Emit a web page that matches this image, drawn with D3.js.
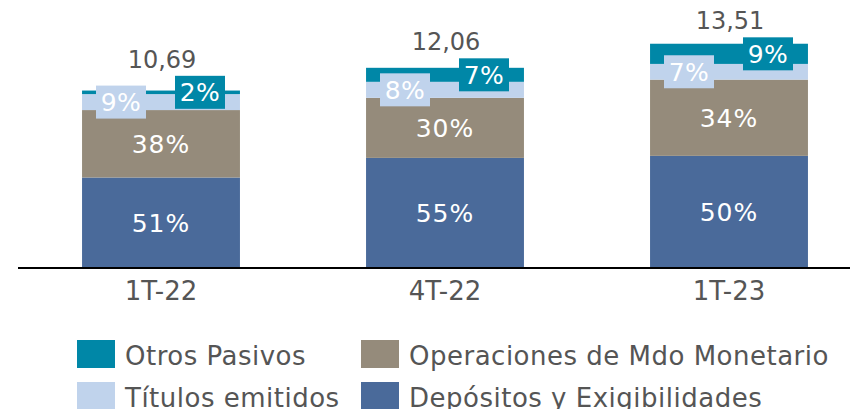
<!DOCTYPE html>
<html>
<head>
<meta charset="utf-8">
<script src="https://cdn.jsdelivr.net/npm/d3@7/dist/d3.min.js"></script>
<style>
  html, body { margin: 0; padding: 0; background: #fff; }
  svg { display: block; }
  text { font-family: "DejaVu Sans", sans-serif; }
</style>
</head>
<body>
<svg id="chart" width="850" height="409"></svg>
<script>
// Quarters and total liabilities (billions)
const categories = ["1T-22", "4T-22", "1T-23"];
const totals = [10.69, 12.06, 13.51];
const totalLabels = ["10,69", "12,06", "13,51"];

// Share of each component in the total, bottom to top
const seriesNames = ["Depósitos y Exigibilidades", "Operaciones de Mdo Monetario", "Títulos emitidos", "Otros Pasivos"];
const depositos = [51, 55, 50];
const operaciones = [38, 30, 34];
const titulos = [9, 8, 7];
const otros = [2, 7, 9];

const colors = {
  "Depósitos y Exigibilidades": "#4a6a9a",
  "Operaciones de Mdo Monetario": "#958b7b",
  "Títulos emitidos": "#c0d3ec",
  "Otros Pasivos": "#0087a7"
};
const textGray = "#555555";

const shares = [depositos, operaciones, titulos, otros];
const rows = categories.map((c, i) => {
  const r = { cat: c, total: totals[i] };
  seriesNames.forEach((s, k) => { r[s] = totals[i] * shares[k][i] / 100; r[s + "_pct"] = shares[k][i]; });
  return r;
});

const svg = d3.select("#chart");
const baseY = 268;

const x = d3.scaleBand().domain(categories).range([19, 871]).paddingInner(0.444).paddingOuter(0.222);
const y = d3.scaleLinear().domain([0, 15]).range([baseY, baseY - 249]);

const stack = d3.stack().keys(seriesNames);
const layers = stack(rows);

const g = svg.append("g");

layers.forEach(layer => {
  g.append("g").selectAll("rect").data(layer).join("rect")
    .attr("x", d => x(d.data.cat))
    .attr("width", x.bandwidth())
    .attr("y", d => y(d[1]))
    .attr("height", d => y(d[0]) - y(d[1]))
    .attr("fill", colors[layer.key]);
});

// In-bar labels for the two large segments
layers.slice(0, 2).forEach(layer => {
  g.append("g").selectAll("text").data(layer).join("text")
    .attr("x", d => x(d.data.cat) + x.bandwidth() / 2)
    .attr("y", d => (y(d[0]) + y(d[1])) / 2)
    .attr("dy", "0.36em")
    .attr("text-anchor", "middle")
    .attr("fill", "#fff")
    .attr("font-size", 25)
    .attr("letter-spacing", 1)
    .text(d => d.data[layer.key + "_pct"] + "%");
});

// Boxed labels for the two thin top segments
const boxW = 50, boxH = 33;
[[layers[2], -40], [layers[3], 39]].forEach(([layer, off]) => {
  const lg = g.append("g").selectAll("g").data(layer).join("g")
    .attr("transform", d => `translate(${x(d.data.cat) + x.bandwidth() / 2 + off},${(y(d[0]) + y(d[1])) / 2})`);
  lg.append("rect")
    .attr("x", -boxW / 2).attr("y", -boxH / 2)
    .attr("width", boxW).attr("height", boxH)
    .attr("fill", colors[layer.key]);
  lg.append("text")
    .attr("text-anchor", "middle")
    .attr("dy", "0.36em")
    .attr("fill", "#fff")
    .attr("font-size", 25)
    .attr("letter-spacing", 0.5)
    .text(d => d.data[layer.key + "_pct"] + "%");
});

// Totals above each bar
const topLayer = layers[3];
g.append("g").selectAll("text").data(topLayer).join("text")
  .attr("x", d => x(d.data.cat) + x.bandwidth() / 2 + 1)
  .attr("y", d => (y(d[0]) + y(d[1])) / 2 - boxH / 2 - 8)
  .attr("text-anchor", "middle")
  .attr("fill", textGray)
  .attr("font-size", 24)
  .text((d, i) => totalLabels[i]);

// Category axis
const axis = svg.append("g")
  .attr("transform", `translate(0,${baseY})`)
  .call(d3.axisBottom(x).tickSize(0).tickPadding(14));
axis.select(".domain").attr("stroke", "#000").attr("stroke-width", 2).attr("d", "M18,0H850");
axis.selectAll(".tick text")
  .attr("fill", textGray)
  .attr("font-size", 26)
  .style("font-family", "'DejaVu Sans', sans-serif");

// Legend
const legendItems = [
  { name: "Otros Pasivos", x: 77, y: 340 },
  { name: "Operaciones de Mdo Monetario", x: 361, y: 340 },
  { name: "Títulos emitidos", x: 77, y: 382 },
  { name: "Depósitos y Exigibilidades", x: 361, y: 382 }
];
const leg = svg.append("g").selectAll("g").data(legendItems).join("g")
  .attr("transform", d => `translate(${d.x},${d.y})`);
leg.append("rect").attr("width", 38).attr("height", 28).attr("fill", d => colors[d.name]);
leg.append("text")
  .attr("x", 48).attr("y", 25)
  .attr("fill", textGray)
  .attr("font-size", 26)
  .attr("letter-spacing", 0.5)
  .text(d => d.name);
</script>
</body>
</html>
